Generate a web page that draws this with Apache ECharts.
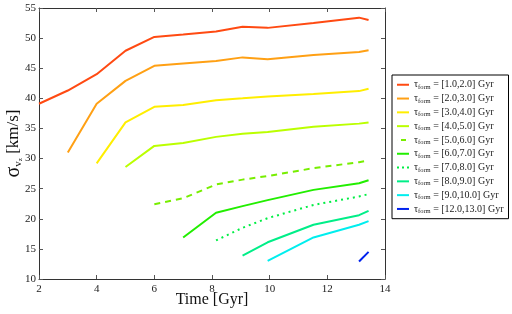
<!DOCTYPE html>
<html><head><meta charset="utf-8">
<script src="https://cdn.jsdelivr.net/npm/echarts@6/dist/echarts.min.js"></script>
<style>html,body{margin:0;padding:0;background:#fff}#c{width:512px;height:314px}</style>
</head><body><div id="c"></div>
<script>
var times = [2, 3, 4, 5, 6, 7, 8.14, 9.06, 9.93, 11.52, 13.1, 13.43];
var bins = ['[1.0,2.0]', '[2.0,3.0]', '[3.0,4.0]', '[4.0,5.0]', '[5.0,6.0]', '[6.0,7.0]', '[7.0,8.0]', '[8.0,9.0]', '[9.0,10.0]', '[12.0,13.0]'];
var s1 = [39.1, 41.3, 44.0, 47.9, 50.2, 50.6, 51.1, 51.9, 51.7, 52.5, 53.4, 53.0];
var s2 = [null, 31.0, 39.1, 42.9, 45.4, 45.8, 46.2, 46.8, 46.5, 47.2, 47.7, 48.0];
var s3 = [null, null, 29.2, 36.0, 38.6, 38.9, 39.7, 40.0, 40.3, 40.7, 41.2, 41.6];
var s4 = [null, null, null, 28.6, 32.1, 32.6, 33.6, 34.1, 34.4, 35.3, 35.8, 36.0];
var s5 = [null, null, null, null, 22.4, 23.4, 25.7, 26.5, 27.1, 28.4, 29.4, 29.7];
var s6 = [null, null, null, null, null, 16.9, 21.0, 22.1, 23.1, 24.8, 25.9, 26.4];
var s7 = [null, null, null, null, null, null, 16.4, 18.5, 20.1, 22.3, 23.7, 24.1];
var s8 = [null, null, null, null, null, null, null, 13.9, 16.1, 19.0, 20.6, 21.3];
var s9 = [null, null, null, null, null, null, null, null, 13.0, 16.9, 19.0, 19.6];
var s10 = [null, null, null, null, null, null, null, null, null, null, 12.9, 14.5];
var xTicks = [2, 4, 6, 8, 10, 12, 14];
var yTicks = [10, 15, 20, 25, 30, 35, 40, 45, 50, 55];

var allSeries = [s1, s2, s3, s4, s5, s6, s7, s8, s9, s10];
var colors = ['#ff4a12', '#ffa014', '#ffee00', '#bbff00', '#77ee00', '#22ee00', '#00ee44', '#00ee88', '#00eeee', '#0022ee'];
var types = ['solid', 'solid', 'solid', 'solid', [6, 5], 'solid', [2, 4], 'solid', 'solid', 'solid'];
var font = 'Liberation Serif';
var iconSolid = 'path://M0,0H12V2H0Z';
var iconDash = 'path://M0,0H0.05V2H0Z M4,0H9V2H4Z M11.95,0H12V2H11.95Z';
var iconDot = 'path://M0,0H2V2H0Z M5,0H7V2H5Z M10,0H12V2H10Z';
var icons = [iconSolid, iconSolid, iconSolid, iconSolid, iconDash, iconSolid, iconDot, iconSolid, iconSolid, iconSolid];

function pairs(arr) {
  var out = [];
  for (var i = 0; i < times.length; i++) if (arr[i] != null) out.push([times[i], arr[i]]);
  return out;
}
var series = allSeries.map(function (arr, i) {
  return {
    name: bins[i], type: 'line', data: pairs(arr), symbol: 'none',
    lineStyle: { color: colors[i], width: 2, type: types[i] },
    itemStyle: { color: colors[i] }, animation: false
  };
});
var axisLine = { show: true, lineStyle: { color: '#333', width: 1 } };
var chart = echarts.init(document.getElementById('c'));
chart.setOption({
  animation: false,
  grid: { left: 39, right: 127, top: 8, bottom: 35, containLabel: false, outerBoundsMode: 'none' },
  legend: {
    orient: 'vertical', left: 392, top: 75, itemWidth: 12, itemHeight: 2, itemGap: 2.3,
    borderColor: '#000', borderWidth: 1, padding: [4, 5, 4, 5], backgroundColor: '#fff',
    data: bins.map(function (b, i) { return { name: b, icon: icons[i], itemStyle: { color: colors[i] } }; }),
    formatter: function (n) { return '{t|τ}{s|form}{t| = ' + n + ' Gyr}'; },
    textStyle: {
      fontFamily: font, color: '#222', lineHeight: 11.5,
      rich: {
        t: { fontFamily: font, fontSize: 10, color: '#222' },
        s: { fontFamily: font, fontSize: 6.5, color: '#222', verticalAlign: 'bottom', padding: [3, 0, 0, 0] }
      }
    }
  },
  xAxis: [{
    type: 'value', min: 2, max: 14, interval: 2, position: 'bottom',
    axisLine: axisLine, axisTick: { inside: true, length: 4, lineStyle: { color: '#555' } },
    splitLine: { show: false },
    axisLabel: { fontFamily: font, fontSize: 11, color: '#222', margin: 5,
      formatter: function (v) { return xTicks.indexOf(v) >= 0 ? String(v) : ''; } },
    name: 'Time [Gyr]', nameLocation: 'middle', nameGap: 13, nameMoveOverlap: false,
    nameTextStyle: { fontFamily: font, fontSize: 16, color: '#111' }
  }, {
    type: 'value', min: 2, max: 14, interval: 2, position: 'top',
    axisLine: axisLine, axisTick: { inside: true, length: 4, lineStyle: { color: '#555' } },
    axisLabel: { show: false }, splitLine: { show: false }
  }],
  yAxis: [{
    type: 'value', min: 10, max: 55, interval: 5, position: 'left',
    axisLine: axisLine, axisTick: { inside: true, length: 4, lineStyle: { color: '#555' } },
    splitLine: { show: false },
    axisLabel: { fontFamily: font, fontSize: 11, color: '#222', margin: 3,
      formatter: function (v) { return yTicks.indexOf(v) >= 0 ? String(v) : ''; } },
    name: '{a|σ}{b|v}{c|z}{d| [km/s]}', nameLocation: 'middle', nameGap: 15, nameRotate: 90, nameMoveOverlap: false,
    nameTextStyle: {
      fontFamily: font, color: '#111',
      rich: {
        a: { fontFamily: font, fontSize: 20, color: '#111' },
        b: { fontFamily: font, fontSize: 11, color: '#111', verticalAlign: 'bottom', padding: [6, 0, 0, 0] },
        c: { fontFamily: font, fontSize: 7, color: '#111', verticalAlign: 'bottom', padding: [10, 0, 0, 0] },
        d: { fontFamily: font, fontSize: 17, color: '#111' }
      }
    }
  }, {
    type: 'value', min: 10, max: 55, interval: 5, position: 'right',
    axisLine: axisLine, axisTick: { inside: true, length: 4, lineStyle: { color: '#555' } },
    axisLabel: { show: false }, splitLine: { show: false }
  }],
  series: series
});
</script></body></html>
